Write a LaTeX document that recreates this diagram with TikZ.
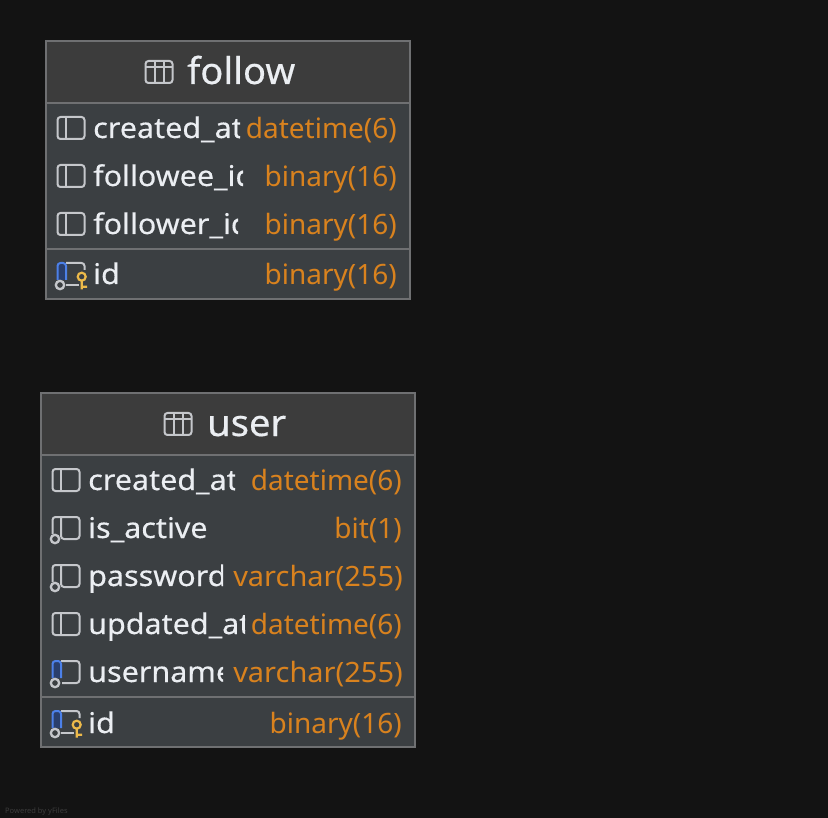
\documentclass[tikz,border=0pt]{standalone}
\usepackage{fontspec}
\setmainfont{Noto Sans}
\newfontfamily\titlefam[FakeStretch=1.03,FakeBold=0.4]{Noto Sans}
\newfontfamily\namefam[FakeStretch=1.07,FakeBold=0.35]{Noto Sans}
\newfontfamily\typefam{Noto Sans}
\newfontfamily\varfam[FakeStretch=1.035]{Noto Sans}
\definecolor{bgc}{HTML}{131313}
\definecolor{headc}{HTML}{3C3C3C}
\definecolor{bodyc}{HTML}{3B3F42}
\definecolor{edgec}{HTML}{6F7072}
\definecolor{txtc}{HTML}{EBEEF2}
\definecolor{typec}{HTML}{D9821E}
\definecolor{iconc}{HTML}{C5C7CB}
\definecolor{bluec}{HTML}{4C80E8}
\definecolor{bluef}{HTML}{2A3F6C}
\definecolor{keyc}{HTML}{EDBA4A}
\tikzset{
  x=1pt,y=-1pt,
  tablebox/.style={draw=edgec,line width=1.5pt,fill=bodyc},
  headbox/.style={fill=headc},
  sepline/.style={draw=edgec,line width=2pt},
  titletext/.style={anchor=base west,inner sep=0pt,text=txtc,font=\titlefam\fontsize{37}{37}\selectfont},
  nametext/.style={anchor=base west,inner sep=0pt,text=txtc,font=\namefam\fontsize{28.5}{30}\selectfont},
  typetext/.style={anchor=base east,inner sep=0pt,text=typec,font=\typefam\fontsize{28}{30}\selectfont},
  vartext/.style={typetext,font=\varfam\fontsize{28}{30}\selectfont},
  iconline/.style={draw=iconc,line width=2pt,rounded corners=3pt},
  iconstroke/.style={draw=iconc,line width=2pt},
  ringstroke/.style={draw=iconc,line width=2.3pt,fill=bodyc},
  bluestroke/.style={draw=bluec,line width=2pt,rounded corners=3pt},
  keystroke/.style={draw=keyc,line width=2.2pt},
}
\newcommand{\tshift}{1}
% table icon: (x,y) = centre
\newcommand{\tblicon}[2]{%
  \draw[iconline] (#1-13.5,#2-11) rectangle (#1+13.5,#2+11);
  \draw[iconstroke] (#1-13.5,#2-5) -- (#1+13.5,#2-5)
     (#1-4.5,#2-11) -- (#1-4.5,#2+11) (#1+4.5,#2-11) -- (#1+4.5,#2+11);}
% plain column icon
\newcommand{\colicon}[2]{%
  \draw[iconline] (#1-13.5,#2-11) rectangle (#1+13.5,#2+11);
  \draw[iconstroke] (#1-5,#2-11) -- (#1-5,#2+11);}
% not-null column icon, with ring
\newcommand{\nnicon}[2]{%
  \draw[iconline] (#1-13.5,#2+6) -- (#1-13.5,#2-11) -- (#1+13.5,#2-11) -- (#1+13.5,#2+11) -- (#1-5,#2+11) -- (#1-5,#2-11);
  \draw[ringstroke] (#1-11,#2+11) circle[radius=4.2];}
\newcommand{\uqicon}[2]{%
  \fill[bluef] (#1-13.5,#2-10) rectangle (#1-5,#2+6);
  \draw[iconline] (#1-5,#2-11) -- (#1+13.5,#2-11) -- (#1+13.5,#2+11) -- (#1-4,#2+11);
  \draw[bluestroke] (#1-5,#2+6) -- (#1-5,#2-11) -- (#1-13.5,#2-11) -- (#1-13.5,#2+6);
  \draw[ringstroke] (#1-11,#2+11) circle[radius=4.2];}
\newcommand{\pkicon}[2]{%
  \fill[bluef] (#1-13.5,#2-10) rectangle (#1-5,#2+6);
  \draw[iconline] (#1-5,#2-11) -- (#1+13.5,#2-11) -- (#1+13.5,#2-4);
  \draw[iconstroke] (#1-5,#2+11) -- (#1+8,#2+11);
  \draw[bluestroke] (#1-5,#2+6) -- (#1-5,#2-11) -- (#1-13.5,#2-11) -- (#1-13.5,#2+6);
  \draw[ringstroke] (#1-11,#2+11) circle[radius=4.2];
  \draw[keystroke] (#1+10.7,#2+2.7) circle[radius=4]
     (#1+10.7,#2+6.7) -- (#1+10.7,#2+15.5) (#1+10.7,#2+12.7) -- (#1+16,#2+12.7);}
% row: name, x text, baseline y, clip right, text, right x, type, type style
\newcommand{\rowtext}[8]{%
  \begin{scope}
    \clip (#2-2,#3-30) rectangle (#4,#3+15);
    \node[nametext] (#1n) at (#2,#3) {#5};
  \end{scope}
  \node[#8] (#1t) at (#6,#3+\tshift) {#7};}
\begin{document}
\begin{tikzpicture}
\useasboundingbox (0,0) rectangle (828,818);
\fill[bgc] (0,0) rectangle (828,818);
% follow
\path[tablebox] (46,41) rectangle (410,299);
\fill[headbox] (47,42) rectangle (409,102);
\draw[sepline] (47,103) -- (409,103);
\draw[sepline] (47,249) -- (409,249);
\tblicon{159}{72}
\node[titletext] (followtitle) at (187,84) {follow};
\colicon{71}{128}
\rowtext{fa}{93}{138}{240}{created\_at}{397}{datetime(6)}{typetext}
\colicon{71}{176}
\rowtext{fb}{93}{186}{243}{followee\_id}{397}{binary(16)}{typetext}
\colicon{71}{224}
\rowtext{fc}{93}{234}{238}{follower\_id}{397}{binary(16)}{typetext}
\pkicon{71}{274}
\rowtext{fd}{93}{284}{240}{id}{397}{binary(16)}{typetext}
% user
\renewcommand{\tshift}{0}
\path[tablebox] (41,393) rectangle (415,747);
\fill[headbox] (42,394) rectangle (414,454);
\draw[sepline] (42,455) -- (414,455);
\draw[sepline] (42,697) -- (414,697);
\tblicon{178}{424}
\node[titletext] (usertitle) at (207,436) {user};
\colicon{66}{480}
\rowtext{ua}{88}{490}{235}{created\_at}{402}{datetime(6)}{typetext}
\nnicon{66}{528}
\rowtext{ub}{88}{538}{206}{is\_active}{402}{bit(1)}{typetext}
\nnicon{66}{576}
\rowtext{uc}{88}{586}{223}{password}{403}{varchar(255)}{vartext}
\colicon{66}{624}
\rowtext{ud}{88}{634}{245}{updated\_at}{402}{datetime(6)}{typetext}
\uqicon{66}{672}
\rowtext{ue}{88}{682}{223}{username}{403}{varchar(255)}{vartext}
\pkicon{66}{722}
\rowtext{uf}{88}{733}{240}{id}{402}{binary(16)}{typetext}
\node[anchor=base west,inner sep=0pt,text=headc,font=\fontsize{7.5}{8}\selectfont] (powered) at (5,813) {Powered by yFiles};
\end{tikzpicture}
\end{document}
